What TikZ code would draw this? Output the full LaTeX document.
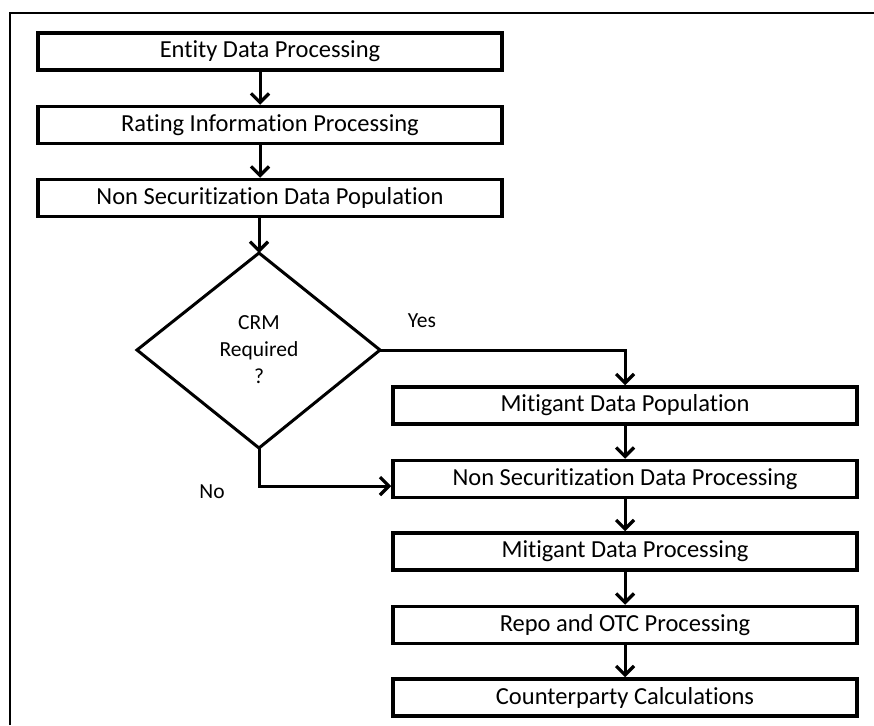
\documentclass[tikz,border=0pt]{standalone}
\usepackage{fontspec}
\setmainfont[RawFeature={-liga;-clig;-calt;-dlig;-rlig}]{Carlito}
\usetikzlibrary{arrows.meta,shapes.geometric}
\tikzset{
  proc/.style={draw=black, line width=3.5pt, rectangle, minimum height=37pt, inner sep=0pt, font=\fontsize{24.5}{26}\selectfont},
  flow/.style={line width=3pt, -{Straight Barb[length=9pt,width=18pt,line width=3.2pt]}},
  lbl/.style={font=\fontsize{21.5}{27}\selectfont, inner sep=0pt},
}
\begin{document}
\begin{tikzpicture}[x=1pt,y=-1pt]
\useasboundingbox (0,0) rectangle (874,725);
\draw[line width=2pt] (10,725) -- (10,13) -- (874,13);
% top column
\node[proc, minimum width=464pt] (entity) at (270,51.5) {Entity Data Processing};
\node[proc, minimum width=464pt] (rating) at (270,125) {Rating Information Processing};
\node[proc, minimum width=464pt] (nsdp) at (270,198) {Non Securitization Data Population};
% diamond
\coordinate (dT) at (259,253);
\coordinate (dR) at (380,350);
\coordinate (dB) at (259,448);
\coordinate (dL) at (137,350);
\draw[line width=3pt, line join=miter] (dT) -- (dR) -- (dB) -- (dL) -- cycle;
\node[lbl, align=center] (crm) at (259,350) {CRM\\Required\\?};
% right column
\node[proc, minimum width=464pt] (mdp) at (625,405.5) {Mitigant Data Population};
\node[proc, minimum width=464pt] (nsproc) at (625,479) {Non Securitization Data Processing};
\node[proc, minimum width=464pt] (mproc) at (625,551.5) {Mitigant Data Processing};
\node[proc, minimum width=464pt] (repo) at (625,625) {Repo and OTC Processing};
\node[proc, minimum width=464pt] (cpc) at (625,697.5) {Counterparty Calculations};
% arrows
\draw[flow] ([xshift=-10pt]entity.south) -- ([xshift=-10pt]rating.north);
\draw[flow] ([xshift=-10pt]rating.south) -- ([xshift=-10pt]nsdp.north);
\draw[flow] ([xshift=-11pt]nsdp.south) -- (dT);
\draw[flow] (dR) -| (mdp.north);
\draw[flow] (dB) |- ([yshift=-7pt]nsproc.west);
\draw[flow] (mdp.south) -- (nsproc.north);
\draw[flow] (nsproc.south) -- (mproc.north);
\draw[flow] (mproc.south) -- (repo.north);
\draw[flow] (repo.south) -- (cpc.north);
% labels
\node[lbl] (yes) at (422,321) {Yes};
\node[lbl] (no) at (212,492) {No};
\end{tikzpicture}
\end{document}
